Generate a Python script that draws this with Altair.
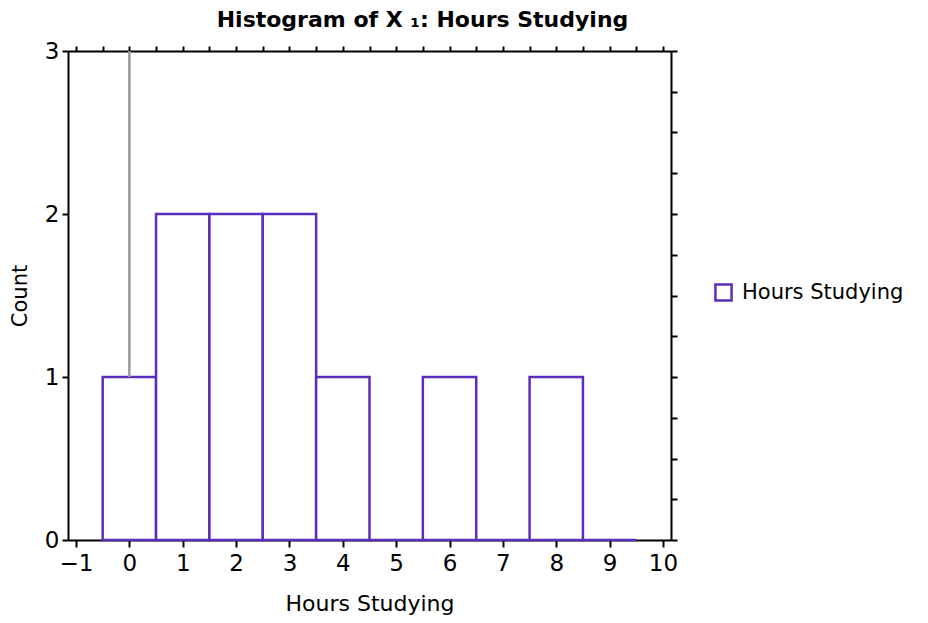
import altair as alt
import pandas as pd

bin_centers = [0, 1, 2, 3, 4, 5, 6, 7, 8, 9]
counts = [1, 2, 2, 2, 1, 0, 1, 0, 1, 0]
series_name = "Hours Studying"
x_ticks = list(range(-1, 11))
y_ticks = [i * 0.25 for i in range(13)]
ref_x = [0]
ref_y_from = [1]
ref_y_to = [3]

PURPLE = "#5b2dbd"
FONT = "DejaVu Sans"

df = pd.DataFrame({
    "start": [c - 0.5 for c in bin_centers],
    "end": [c + 0.5 for c in bin_centers],
    "count": counts,
    "series": [series_name] * len(bin_centers),
})
ref = pd.DataFrame({"x": ref_x, "y1": ref_y_from, "y2": ref_y_to})

xscale = alt.Scale(domain=[-1.15, 10.15], nice=False, zero=False)
yscale = alt.Scale(domain=[0, 3], nice=False)

bars = alt.Chart(df).mark_bar(fill="white", strokeWidth=2.5).encode(
    x=alt.X("start:Q", scale=xscale,
            axis=alt.Axis(values=x_ticks, title="Hours Studying", tickSize=7, tickWidth=2,
                          domainColor="black", domainWidth=2, tickColor="black",
                          labelFontSize=23, titleFontSize=22, labelPadding=5, titlePadding=18,
                          titleFontWeight="normal", labelFlush=False, grid=False, format="d",
                          labelColor="black", titleColor="black")),
    x2="end:Q",
    y=alt.Y("count:Q", scale=yscale,
            axis=alt.Axis(values=y_ticks, title="Count", tickSize=6, tickWidth=2,
                          domainColor="black", domainWidth=2, tickColor="black",
                          labelExpr="datum.value % 1 == 0 ? datum.label : ''",
                          labelFontSize=23, titleFontSize=21, labelPadding=3, titlePadding=14,
                          titleFontWeight="normal", labelFlush=False, grid=False, format="d",
                          labelColor="black", titleColor="black")),
    y2=alt.datum(0),
    stroke=alt.Stroke("series:N", scale=alt.Scale(range=[PURPLE]),
                      legend=alt.Legend(title=None, orient="none", legendX=645, legendY=231,
                                        symbolType="square", symbolFillColor="white",
                                        symbolStrokeWidth=2.5, symbolSize=260,
                                        labelFontSize=21, labelFont=FONT, labelColor="black",
                                        labelOffset=8, labelLimit=0)),
)

refline = alt.Chart(ref).mark_rule(color="#999999", strokeWidth=2.5).encode(
    x=alt.X("x:Q", scale=xscale), y=alt.Y("y1:Q", scale=yscale), y2="y2:Q"
)

frame_axes = alt.Chart(ref).mark_point(opacity=0).encode(
    x=alt.X("x:Q", scale=xscale,
            axis=alt.Axis(orient="top", values=[v / 2 for v in range(-2, 21)], labels=False,
                          title=None, tickSize=5, tickWidth=2, tickColor="black",
                          domainColor="black", domainWidth=2, grid=False)),
    y=alt.Y("y1:Q", scale=yscale,
            axis=alt.Axis(orient="right", values=y_ticks, labels=False, title=None,
                          tickSize=6, tickWidth=2, tickColor="black",
                          domainColor="black", domainWidth=2, grid=False)),
)

main = alt.layer(bars, refline)
chart = alt.layer(main, frame_axes).resolve_axis(x="independent", y="independent").properties(
    width=603, height=489,
    title=alt.TitleParams("Histogram of X \u2081: Hours Studying", fontSize=22, font=FONT,
                          fontWeight="bold", anchor="middle", dx=53, offset=8, color="black"),
    autosize=alt.AutoSizeParams(type="none"),
    padding={"left": 60, "top": 43, "right": 249, "bottom": 75},
).configure_view(stroke=None).configure(font=FONT)

chart.save("out.html", embed_options={"renderer": "svg", "actions": False})
